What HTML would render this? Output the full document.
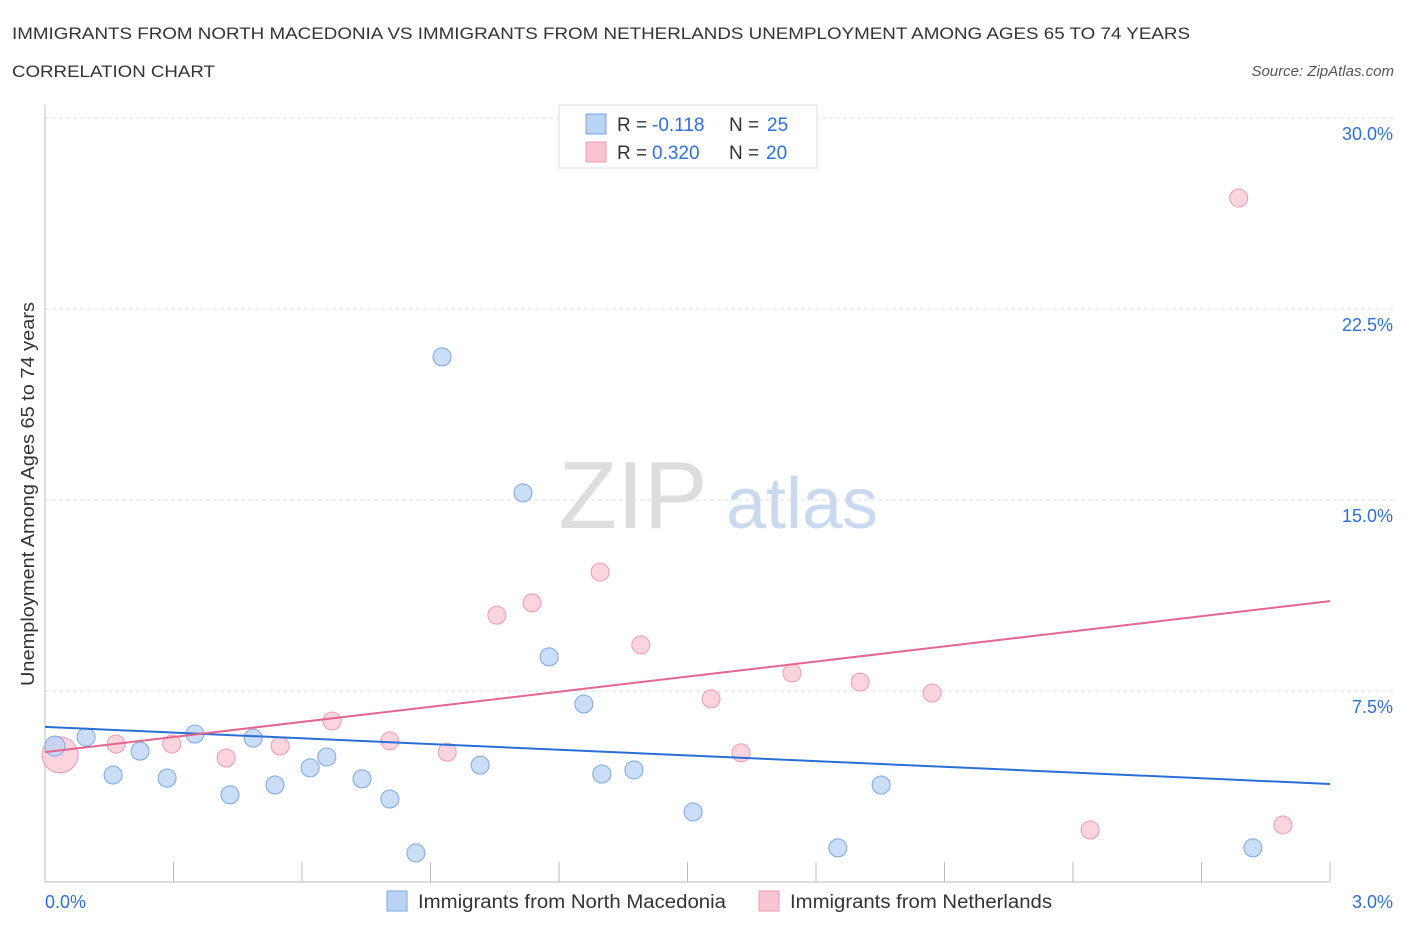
<!DOCTYPE html>
<html><head><meta charset="utf-8"><style>
body{margin:0;background:#fff;font-family:"Liberation Sans",sans-serif;}
svg text{font-family:"Liberation Sans",sans-serif;}
</style></head><body>
<svg id="c" width="1406" height="930" xmlns="http://www.w3.org/2000/svg">
<text x="12" y="39" font-size="17" fill="#333" textLength="1178" lengthAdjust="spacingAndGlyphs">IMMIGRANTS FROM NORTH MACEDONIA VS IMMIGRANTS FROM NETHERLANDS UNEMPLOYMENT AMONG AGES 65 TO 74 YEARS</text>
<text x="12" y="77" font-size="17" fill="#333" textLength="203" lengthAdjust="spacingAndGlyphs">CORRELATION CHART</text>
<text x="1394" y="76" font-size="15" fill="#555" font-style="italic" text-anchor="end">Source: ZipAtlas.com</text>
<text x="633" y="528" font-size="96" fill="#ddd" font-family="Liberation Serif" text-anchor="middle">ZIP</text>
<text x="802" y="528" font-size="72" fill="#c9daf0" text-anchor="middle">atlas</text>
<text transform="translate(34,494) rotate(-90)" font-size="18" fill="#333" text-anchor="middle" textLength="384" lengthAdjust="spacingAndGlyphs">Unemployment Among Ages 65 to 74 years</text>
<g id="grid"></g><g id="marks"></g>
<g>
<rect x="559" y="105" width="258" height="63" fill="#fff" stroke="#ddd"/>
<rect x="586" y="114" width="20" height="20" fill="#b9d3f5" stroke="#7aa7e0"/>
<rect x="586" y="142" width="20" height="20" fill="#f9c5d3" stroke="#ec9ab2"/>
<text x="617" y="131" font-size="19" fill="#333">R =</text>
<text x="652" y="131" font-size="19" fill="#2f6fd4">-0.118</text>
<text x="729" y="131" font-size="19" fill="#333">N =</text>
<text x="767" y="131" font-size="19" fill="#2f6fd4">25</text>
<text x="617" y="159" font-size="19" fill="#333">R =</text>
<text x="652" y="159" font-size="19" fill="#2f6fd4">0.320</text>
<text x="729" y="159" font-size="19" fill="#333">N =</text>
<text x="766" y="159" font-size="19" fill="#2f6fd4">20</text>
</g>
<g>
<rect x="387" y="891" width="20" height="20" fill="#b9d3f5" stroke="#7aa7e0"/>
<text x="418" y="908" font-size="19" fill="#333" textLength="308" lengthAdjust="spacingAndGlyphs">Immigrants from North Macedonia</text>
<rect x="759" y="891" width="20" height="20" fill="#f9c5d3" stroke="#ec9ab2"/>
<text x="790" y="908" font-size="19" fill="#333" textLength="262" lengthAdjust="spacingAndGlyphs">Immigrants from Netherlands</text>
</g>
</svg>
<script>
const blueX=[0.023,0.096,0.159,0.222,0.285,0.350,0.432,0.486,0.537,0.619,0.658,0.740,0.805,0.866,0.927,1.016,1.116,1.177,1.258,1.300,1.375,1.513,1.851,1.952,2.820];
const blueY=[5.34,5.69,4.20,5.14,4.08,5.81,3.42,5.65,3.81,4.48,4.91,4.05,3.26,1.14,20.62,4.59,15.28,8.84,6.99,4.24,4.40,2.75,1.34,3.81,1.34];
const pinkX=[0.035,0.166,0.296,0.423,0.549,0.670,0.805,0.939,1.055,1.137,1.296,1.391,1.555,1.625,1.744,1.903,2.071,2.440,2.787,2.890];
const pinkY=[4.99,5.42,5.42,4.87,5.34,6.32,5.54,5.10,10.48,10.96,12.17,9.31,7.19,5.07,8.21,7.85,7.42,2.04,26.86,2.24];
const blueTrend=[6.09,3.85];
const pinkTrend=[5.10,11.03];
const yTicks=[7.5,15,22.5,30];
const yTickLabels=["7.5%","15.0%","22.5%","30.0%"];
const xTickVals=[0,0.3,0.6,0.9,1.2,1.5,1.8,2.1,2.4,2.7,3.0];
const X=v=>45+v/3*1285, Y=v=>882-v/7.5*191;
const NS="http://www.w3.org/2000/svg";
function mk(t,a,p){const e=document.createElementNS(NS,t);for(const k in a)e.setAttribute(k,a[k]);p.appendChild(e);return e;}
const g=document.getElementById('grid'),m=document.getElementById('marks');
yTicks.forEach((v,i)=>{
 const l=mk('line',{x1:45,x2:1394,y1:Y(v),y2:Y(v),stroke:'#ddd','stroke-dasharray':'4,3'},g);
 
 
 const t=mk('text',{x:1393,y:Y(v)+22,'font-size':18,fill:'#2f6fd4','text-anchor':'end'},g);t.textContent=yTickLabels[i];
 
 
});
const ax=mk('line',{x1:45,x2:45,y1:105,y2:882,stroke:'#bbb'},g);


const xa=mk('line',{x1:45,x2:1330,y1:882,y2:882,stroke:'#bbb'},g);


xTickVals.forEach(v=>{const t=mk('line',{x1:X(v),x2:X(v),y1:862,y2:882,stroke:'#bbb'},g);
 
 });
const t0=mk('text',{x:45,y:908,'font-size':18,fill:'#2f6fd4'},g);t0.textContent='0.0%';


const t1=mk('text',{x:1393,y:908,'font-size':18,fill:'#2f6fd4','text-anchor':'end'},g);t1.textContent='3.0%';


pinkX.forEach((x,i)=>{const c=mk('circle',{cx:X(x),cy:Y(pinkY[i]),r:i==0?18:9,fill:'#f9c5d3','fill-opacity':0.75,stroke:'#ec9ab2'},m);
 
 });
blueX.forEach((x,i)=>{const c=mk('circle',{cx:X(x),cy:Y(blueY[i]),r:i==0?10:9,fill:'#b9d3f5','fill-opacity':0.75,stroke:'#7aa7e0'},m);
 
 });
const bl=mk('line',{x1:X(0),x2:X(3),y1:Y(blueTrend[0]),y2:Y(blueTrend[1]),stroke:'#2a6fd6','stroke-width':2},m);


const pl=mk('line',{x1:X(0),x2:X(3),y1:Y(pinkTrend[0]),y2:Y(pinkTrend[1]),stroke:'#e4668f','stroke-width':2},m);


</script>
</body></html>
